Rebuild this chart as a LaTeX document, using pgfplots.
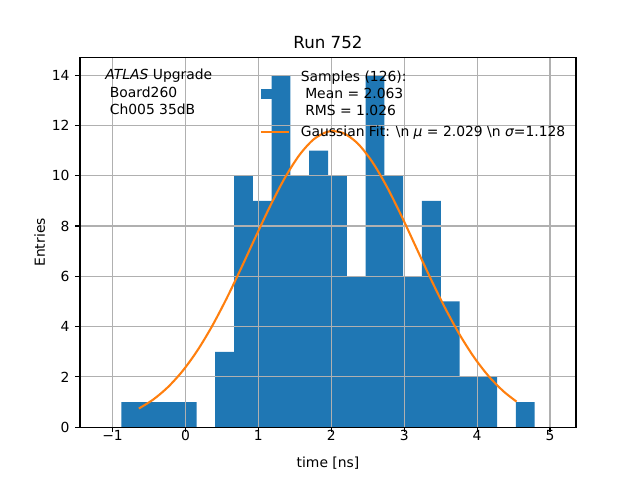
\documentclass[border=0pt]{standalone}
\usepackage{fontspec}
\setmainfont{DejaVu Sans}
\usepackage{pgfplots}
\usepackage{pgfplotstable}
\pgfplotsset{compat=1.18}
\definecolor{mplblue}{HTML}{1F77B4}
\definecolor{mplorange}{HTML}{FF7F0E}
\definecolor{mplgrid}{HTML}{B0B0B0}

\pgfplotstableread{
x y
-1.138 0
-0.880 1
-0.623 1
-0.365 1
-0.107 1
0.151 0
0.408 3
0.666 10
0.924 9
1.181 14
1.439 10
1.697 11
1.955 10
2.212 6
2.470 14
2.728 10
2.985 6
3.243 9
3.501 5
3.759 2
4.016 2
4.274 0
4.532 1
4.789 0
5.047 0
}\histdata

\pgfplotstableread{
x y
-0.64 0.742
-0.44 1.106
-0.24 1.597
-0.04 2.236
0.16 3.036
0.36 3.996
0.56 5.098
0.76 6.305
0.96 7.560
1.16 8.787
1.36 9.902
1.56 10.816
1.76 11.454
1.96 11.758
2.16 11.702
2.36 11.290
2.56 10.559
2.76 9.574
2.96 8.415
3.16 7.170
3.36 5.923
3.56 4.743
3.76 3.682
3.96 2.771
4.16 2.022
4.36 1.430
4.54 1.019
}\fitdata

\begin{document}
\begin{tikzpicture}[font=\fontsize{10}{12}\selectfont]
\begin{axis}[
  set layers, clip mode=individual,
  at={(0,0)}, anchor=south west, scale only axis,
  width=357.12pt, height=266.112pt,
  xmin=-1.447, xmax=5.356, ymin=0, ymax=14.7,
  xtick={-1,0,1,2,3,4,5}, xticklabels={−1,0,1,2,3,4,5},
  ytick={0,2,4,6,8,10,12,14},
  /pgf/number format/assume math mode=true,
  tick pos=left, tick align=outside, major tick length=3.5pt,
  tick style={black, line width=0.8pt},
  axis line style={line width=0.8pt},
  grid=major, major grid style={mplgrid, line width=0.8pt},
  xticklabel style={anchor=base, inner sep=0pt, yshift=-5.9pt},
  yticklabel style={anchor=east, inner sep=0pt, xshift=-3.8pt},
  title={Run 752},
  every axis title/.style={at={(axis description cs:0.5,1)}, anchor=base, yshift=6.2pt, font=\fontsize{12}{14.4}\selectfont},
  xlabel={time [ns]},
  every axis x label/.style={at={(axis description cs:0.5,0)}, anchor=base, yshift=-28.8pt},
  ylabel={Entries},
  every axis y label/.style={at={([xshift=-25.2pt]axis description cs:0,0.5)}, rotate=90, anchor=base},
  legend style={at={(axis cs:1.02,14.16)}, anchor=north west, draw=none, fill=none,
    inner sep=0pt, outer sep=0pt, row sep=6.3pt, column sep=8pt,
    nodes={inner sep=0pt, align=left, font=\fontsize{10}{12}\selectfont}},
  legend cell align=left,
]
\addplot[ybar interval, fill=mplblue, draw=none, on layer=axis background,
  legend image code/.code={\fill[mplblue] (0pt,-3.5pt) rectangle (20pt,3.5pt);}]
  table[x=x, y=y] {\histdata};
\addlegendentry{Samples (126):\\\mbox{}\ Mean = 2.063\\\mbox{}\ RMS = 1.026}
\addplot[mplorange, line width=1.5pt, smooth, mark=none,
  legend image code/.code={\draw[mplorange, line width=1.5pt] (0pt,0pt) -- (20pt,0pt);}]
  table[x=x, y=y] {\fitdata};
\addlegendentry{Gaussian Fit: \textbackslash n {\itshape μ} = 2.029 \textbackslash n {\itshape σ}=1.128}
\node[anchor=base west, inner sep=0pt] at (axis cs:-1.102,13.82) {\textit{ATLAS} Upgrade};
\node[anchor=base west, inner sep=0pt] at (axis cs:-1.102,13.10) {\ Board260};
\node[anchor=base west, inner sep=0pt] at (axis cs:-1.102,12.42) {\ Ch005 35dB};
\end{axis}
\pgfresetboundingbox
\path (-57.6pt,-38.016pt) rectangle ++(460.8pt,345.6pt);
\end{tikzpicture}
\end{document}
